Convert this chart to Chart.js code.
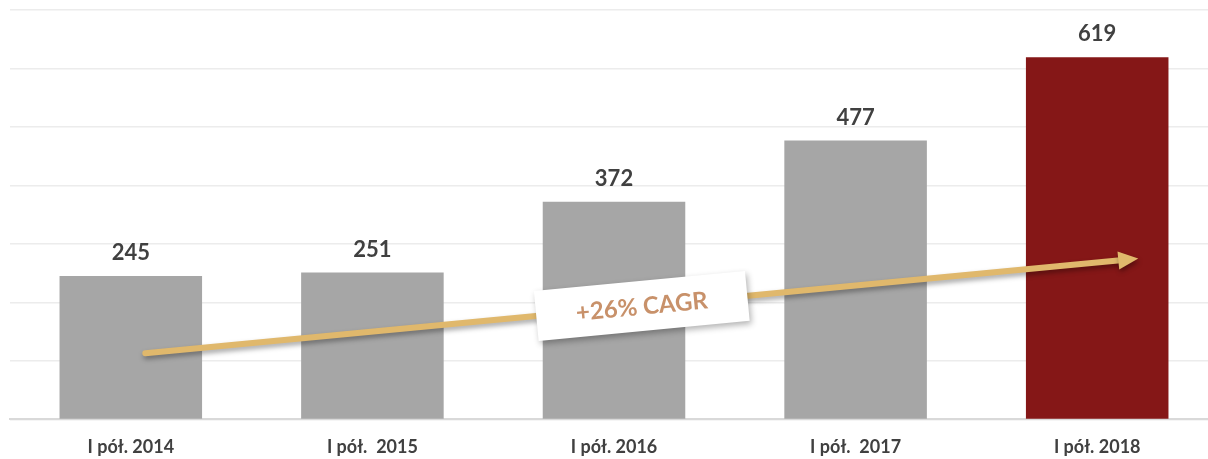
<!DOCTYPE html>
<html>
<head>
<meta charset="utf-8">
<script src="https://cdn.jsdelivr.net/npm/chart.js@4.4.1/dist/chart.umd.min.js"></script>
<style>
  html, body { margin: 0; padding: 0; background: #fff; overflow: hidden; }
  #wrap { position: relative; width: 1218px; height: 475px; }
</style>
</head>
<body>
<div id="wrap"><canvas id="chart"></canvas></div>
<script>
// chart data
const categories = ["I pół. 2014", "I pół.  2015", "I pół. 2016", "I pół.  2017", "I pół. 2018"];
const values = [245, 251, 372, 477, 619];
const barColors = ["#a6a6a6", "#a6a6a6", "#a6a6a6", "#a6a6a6", "#851717"];
const cagrLabel = "+26% CAGR";
// trend arrow in data space: [category index, value]
const arrowFrom = [0.06, 113];
const arrowTo = [4.17, 275];

// value labels above bars
const valueLabels = {
    id: "valueLabels",
    afterDatasetsDraw(chart) {
        const ctx = chart.ctx;
        const meta = chart.getDatasetMeta(0);
        ctx.save();
        ctx.font = "bold 22px Lato";
        ctx.fillStyle = "#404040";
        ctx.textAlign = "center";
        ctx.textBaseline = "bottom";
        meta.data.forEach((bar, i) => {
            ctx.fillText(values[i], bar.x, bar.y - 12);
        });
        ctx.restore();
    }
};

// CAGR arrow and tag
const cagrArrow = {
    id: "cagrArrow",
    afterDraw(chart) {
        const ctx = chart.ctx;
        const xs = chart.scales.x, ys = chart.scales.y;
        const px = (i) => xs.getPixelForValue(0) + i * (xs.getPixelForValue(1) - xs.getPixelForValue(0));
        const x1 = px(arrowFrom[0]), y1 = ys.getPixelForValue(arrowFrom[1]);
        const x2 = px(arrowTo[0]), y2 = ys.getPixelForValue(arrowTo[1]);
        const ang = Math.atan2(y2 - y1, x2 - x1);

        ctx.save();
        ctx.shadowColor = "rgba(0,0,0,0.35)";
        ctx.shadowBlur = 5;
        ctx.shadowOffsetX = 1;
        ctx.shadowOffsetY = 3;
        ctx.strokeStyle = "#e0b86c";
        ctx.fillStyle = "#e0b86c";
        ctx.lineWidth = 6;
        ctx.lineCap = "round";
        const headLen = 18;
        ctx.beginPath();
        ctx.moveTo(x1, y1);
        ctx.lineTo(x2 - headLen * Math.cos(ang), y2 - headLen * Math.sin(ang));
        ctx.stroke();
        // head
        ctx.translate(x2, y2);
        ctx.rotate(ang);
        ctx.beginPath();
        ctx.moveTo(0, 0);
        ctx.lineTo(-headLen - 2, -9);
        ctx.lineTo(-headLen - 2, 9);
        ctx.closePath();
        ctx.fill();
        ctx.restore();

        // tag box at middle of arrow
        const cx = x1 + (x2 - x1) * 0.5;
        const cy = y1 + (y2 - y1) * 0.5;
        ctx.save();
        ctx.translate(cx, cy);
        ctx.rotate(ang);
        ctx.shadowColor = "rgba(0,0,0,0.3)";
        ctx.shadowBlur = 6;
        ctx.shadowOffsetX = 2;
        ctx.shadowOffsetY = 3;
        ctx.fillStyle = "#ffffff";
        ctx.fillRect(-106, -25, 212, 50);
        ctx.shadowColor = "transparent";
        ctx.font = "bold 24px Lato";
        ctx.fillStyle = "#c8916a";
        ctx.textAlign = "center";
        ctx.textBaseline = "middle";
        ctx.fillText(cagrLabel, 0, 1);
        ctx.restore();
    }
};

new Chart(document.getElementById("chart"), {
    type: "bar",
    data: {
        labels: categories,
        datasets: [{
            data: values,
            backgroundColor: barColors,
            categoryPercentage: 0.59,
            barPercentage: 1
        }]
    },
    options: {
        responsive: true,
        maintainAspectRatio: false,
        animation: false,
        layout: { padding: { left: 10, right: 0, top: 10, bottom: 0 } },
        plugins: {
            legend: { display: false },
            tooltip: { enabled: false }
        },
        scales: {
            x: {
                grid: { display: false, drawTicks: false },
                border: { color: "#d9d9d9", width: 2 },
                ticks: {
                    color: "#404040",
                    font: { family: "Lato", size: 18, weight: "bold" },
                    padding: 17
                }
            },
            y: {
                min: 0,
                max: 700,
                ticks: { stepSize: 100, display: false },
                grid: { color: "#ececec", lineWidth: 1.5, drawTicks: false },
                border: { display: false }
            }
        }
    },
    plugins: [valueLabels, cagrArrow]
});
</script>
</body>
</html>
